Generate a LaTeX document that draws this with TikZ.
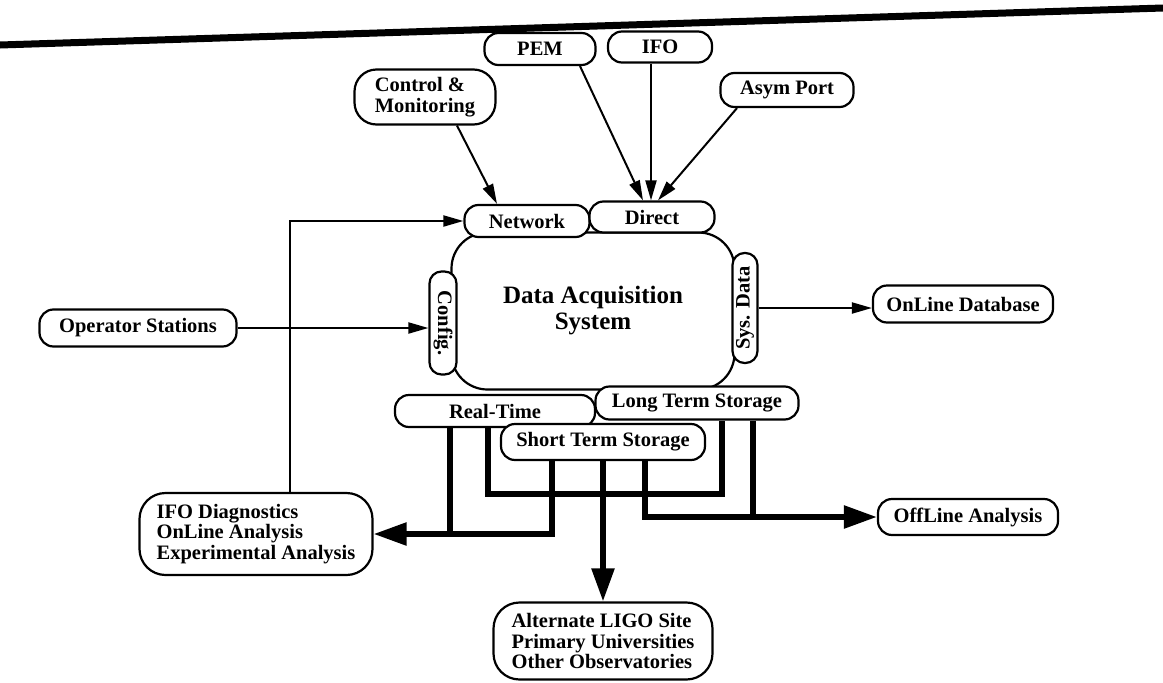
\documentclass[tikz,border=0pt]{standalone}
\usepackage{fontspec}
\setmainfont{Liberation Serif}
\usetikzlibrary{arrows.meta}
\newcommand{\boxfont}{\fontsize{20.5}{20.5}\selectfont\bfseries}
\newcommand{\daqfont}{\fontsize{25}{26}\selectfont\bfseries}
\tikzset{
  pill/.style={draw, line width=2.2pt, fill=white, rounded corners=14pt, inner sep=0pt, font=\boxfont, align=left},
  bigpill/.style={pill, rounded corners=26pt},
  flow/.style={line width=2pt, -{Triangle[length=20pt,width=11pt]}},
  bus/.style={line width=5.5pt},
  busflow/.style={bus, -{Triangle[length=33pt,width=22pt]}},
}
\begin{document}
\begin{tikzpicture}[x=1pt,y=-1pt]
  \useasboundingbox (0,0) rectangle (1163,683);
  % rule across the top of the page
  \draw[line width=7pt] (0,45) -- (1163,8);

  % data acquisition system and its ports
  \node[pill, rounded corners=36pt, minimum width=283pt, minimum height=157pt, font=\daqfont, align=center] (daq) at (593,311) {Data Acquisition\\System};
  \node[pill, minimum width=125pt, minimum height=32pt] (net) at (527,221) {Network};
  \node[pill, minimum width=125pt, minimum height=31pt] (direct) at (652,217) {Direct};
  \node[pill, rounded corners=12pt, rotate=-90, minimum width=103pt, minimum height=27pt] (config) at (443,323) {Config.};
  \node[pill, rounded corners=12pt, rotate=90, minimum width=110pt, minimum height=25pt] (sys) at (745,308) {Sys. Data};
  \node[pill, minimum width=200pt, minimum height=32pt] (rt) at (495,411) {Real-Time};
  \node[pill, minimum width=203pt, minimum height=33pt] (lts) at (697,403) {Long Term Storage};
  \node[pill, minimum width=204pt, minimum height=36pt] (sts) at (603,442) {Short Term Storage};

  % sources
  \node[pill, minimum width=111pt, minimum height=32pt] (pem) at (540,49) {PEM};
  \node[pill, minimum width=104pt, minimum height=31pt] (ifo) at (660,47) {IFO};
  \node[pill, rounded corners=22pt, minimum width=141pt, minimum height=55pt] (ctrl) at (425,97) {Control \&\\Monitoring};
  \node[pill, minimum width=133pt, minimum height=34pt] (asym) at (787,90) {Asym Port};
  \node[pill, minimum width=197pt, minimum height=37pt] (opst) at (138,328) {Operator Stations};

  % consumers
  \node[pill, minimum width=180pt, minimum height=37pt] (onldb) at (963,304) {OnLine Database};
  \node[bigpill, minimum width=233pt, minimum height=82pt] (ifod) at (256,534) {IFO Diagnostics\\OnLine Analysis\\Experimental Analysis};
  \node[pill, minimum width=180pt, minimum height=36pt] (offl) at (968,517) {OffLine Analysis};
  \node[bigpill, minimum width=219pt, minimum height=77pt] (alt) at (603,641) {Alternate LIGO Site\\Primary Universities\\Other Observatories};

  % thin inputs
  \draw[flow] ([xshift=32pt]ctrl.south) -- ([xshift=-30pt]net.north);
  \draw[flow] ([xshift=40pt]pem.south) -- ([xshift=-9pt]direct.north);
  \draw[flow] ([xshift=-9pt]ifo.south) -- ([xshift=-1pt]direct.north);
  \draw[flow] ([xshift=-50pt]asym.south) -- ([xshift=6pt]direct.north);
  \draw[flow] ([xshift=34pt]ifod.north) |- (net.west);
  \draw[flow] (opst.east) -- (opst.east -| config.south);
  \draw[flow] (sys.south) -- (sys.south -| onldb.west);

  % storage buses
  \draw[busflow] ([xshift=-51pt]sts.south) |- (ifod.east);
  \draw[bus] ([xshift=-45pt]rt.south) -- ([xshift=-45pt]rt.south |- ifod.east);
  \draw[bus] ([xshift=-7pt]rt.south) -- ++(0,66) -| ([xshift=25pt]lts.south);
  \draw[busflow] (sts.south) -- (alt.north);
  \draw[busflow] ([xshift=42pt]sts.south) |- (offl.west);
  \draw[bus] ([xshift=56pt]lts.south) -- ([xshift=56pt]lts.south |- offl.west);
\end{tikzpicture}
\end{document}
